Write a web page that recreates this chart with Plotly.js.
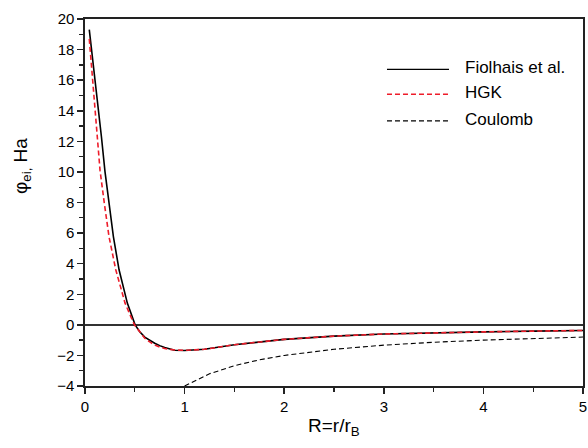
<!DOCTYPE html>
<html>
<head>
<meta charset="utf-8">
<script src="https://cdn.plot.ly/plotly-3.0.1.min.js"></script>
<style>html,body{margin:0;padding:0;background:#fff;}#chart{width:588px;height:448px;}</style>
</head>
<body>
<div id="chart"></div>
<script>
// Fiolhais et al. potential
const fiolR = [0.043, 0.085, 0.127, 0.165, 0.201, 0.241, 0.285, 0.342, 0.425, 0.503, 0.55, 0.6, 0.65, 0.7, 0.75, 0.8, 0.9, 1.0, 1.2, 1.5, 2.0, 2.5, 3.0, 3.5, 4.0, 4.5, 5.0];
const fiolV = [19.3, 17.0, 14.7, 12.3, 10.0, 7.95, 5.77, 3.6, 1.42, 0.0, -0.45, -0.8, -1.02, -1.2, -1.36, -1.48, -1.66, -1.68, -1.6, -1.3, -0.95, -0.74, -0.6, -0.52, -0.46, -0.41, -0.37];
// HGK potential
const hgkR = [0.043, 0.093, 0.151, 0.194, 0.241, 0.309, 0.402, 0.496, 0.55, 0.6, 0.65, 0.7, 0.75, 0.8, 0.9, 1.0, 1.2, 1.5, 2.0, 2.5, 3.0, 3.5, 4.0, 4.5, 5.0];
const hgkV = [18.7, 14.7, 10.1, 7.95, 5.77, 3.6, 1.42, 0.0, -0.5, -0.88, -1.12, -1.32, -1.45, -1.55, -1.65, -1.67, -1.6, -1.3, -0.95, -0.74, -0.6, -0.52, -0.46, -0.41, -0.37];
// Coulomb potential
const coulR = [1.0, 1.25, 1.5, 1.75, 2.0, 2.5, 3.0, 3.5, 4.0, 4.5, 5.0];
const coulV = [-4.0, -3.2, -2.67, -2.29, -2.0, -1.6, -1.33, -1.14, -1.0, -0.89, -0.8];
const seriesNames = ["Fiolhais et al.", "HGK", "Coulomb"];
const xTickVals = [0, 1, 2, 3, 4, 5];
const yTickVals = [-4, -2, 0, 2, 4, 6, 8, 10, 12, 14, 16, 18, 20];

const FONT = "Liberation Sans, Arial, Helvetica, sans-serif";
const traces = [
  {x: fiolR, y: fiolV, name: seriesNames[0], mode: "lines", line: {color: "#000000", width: 1.6}},
  {x: hgkR, y: hgkV, name: seriesNames[1], mode: "lines", line: {color: "#ee1c2a", width: 1.6, dash: "5px,3px"}},
  {x: coulR, y: coulV, name: seriesNames[2], mode: "lines", line: {color: "#000000", width: 1.1, dash: "5px,3px"}}
];

// manual legend (sample lines + labels) in paper coords
const legY = [0.863, 0.795, 0.7225];
const legStyles = [
  {color: "#000000", width: 1.3, dash: "solid"},
  {color: "#ee1c2a", width: 1.3, dash: "5px,3px"},
  {color: "#000000", width: 1.1, dash: "5px,3px"}
];
const shapes = legY.map((yy, i) => ({
  type: "line", xref: "paper", yref: "paper", x0: 0.6064, x1: 0.7309, y0: yy, y1: yy,
  line: legStyles[i]
}));
const annotations = legY.map((yy, i) => ({
  xref: "paper", yref: "paper", x: 0.759, y: yy + 0.004, xanchor: "left", yanchor: "middle",
  text: seriesNames[i], showarrow: false, font: {family: FONT, size: 17, color: "#000"}
}));
annotations.push({
  xref: "paper", yref: "paper", x: -0.126, y: 0.60, xanchor: "center", yanchor: "middle",
  textangle: -90, text: "φ<sub>ei,</sub> Ha", showarrow: false,
  font: {family: FONT, size: 19, color: "#000"}
});
annotations.push({
  xref: "paper", yref: "paper", x: 0.5, y: -0.112, xanchor: "center", yanchor: "middle",
  text: "R=r/r<sub>B</sub>", showarrow: false,
  font: {family: FONT, size: 19, color: "#000"}
});

const layout = {
  width: 588, height: 448,
  margin: {l: 85, r: 5, t: 19, b: 62},
  paper_bgcolor: "#ffffff", plot_bgcolor: "#ffffff",
  showlegend: false,
  font: {family: FONT, color: "#000"},
  xaxis: {
    range: [0, 5], tickvals: xTickVals, ticks: "outside", ticklen: 6, tickwidth: 1.5, tickcolor: "#222",
    minor: {dtick: 0.5, ticks: "outside", ticklen: 4, tickwidth: 1.3, tickcolor: "#222", showgrid: false},
    showline: true, linecolor: "#222", linewidth: 1.6, mirror: true,
    showgrid: false, zeroline: false, automargin: false,
    tickfont: {family: FONT, size: 15, color: "#000"}
  },
  yaxis: {
    range: [-4, 20], tickvals: yTickVals, ticks: "outside", ticklen: 6, tickwidth: 1.5, tickcolor: "#222",
    minor: {dtick: 1, ticks: "outside", ticklen: 4, tickwidth: 1.3, tickcolor: "#222", showgrid: false},
    showline: true, linecolor: "#222", linewidth: 1.6, mirror: true,
    showgrid: false, zeroline: true, zerolinecolor: "#333", zerolinewidth: 1.8, automargin: false,
    tickfont: {family: FONT, size: 15, color: "#000"}
  },
  shapes: shapes,
  annotations: annotations
};

Plotly.newPlot("chart", traces, layout, {displayModeBar: false, staticPlot: true});
</script>
</body>
</html>
